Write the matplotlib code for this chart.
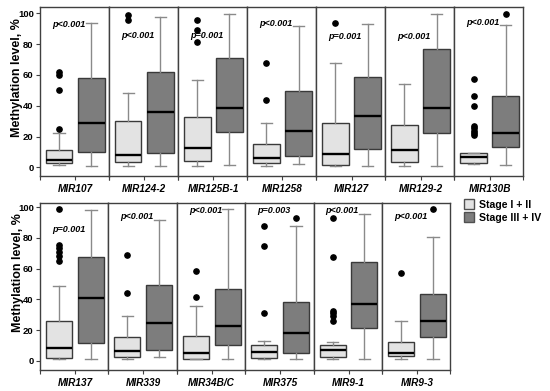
import matplotlib
matplotlib.use('Agg')
import matplotlib.pyplot as plt
from matplotlib.patches import Patch

plt.rcParams['font.family'] = ['Liberation Sans', 'DejaVu Sans']

# genes, first 7 go in the top row, the rest in the bottom row
genes = ['MIR107', 'MIR124-2', 'MIR125B-1', 'MIR1258', 'MIR127', 'MIR129-2', 'MIR130B',
         'MIR137', 'MIR339', 'MIR34B/C', 'MIR375', 'MIR9-1', 'MIR9-3']
p_labels = ['p<0.001', 'p<0.001', 'p=0.001', 'p<0.001', 'p=0.001', 'p<0.001', 'p<0.001',
            'p=0.001', 'p<0.001', 'p<0.001', 'p=0.003', 'p<0.001', 'p<0.001']
p_height = [93, 85.5, 85.5, 93.5, 85, 85, 94,
            85.6, 94.3, 97.8, 97.8, 97.6, 94.3]

# Stage I + II
early_whislo = [1.5, 0.8, 1.0, 1.0, 0.8, 1.0, 2.0, 1.1, 1.3, 1.0, 1.3, 1.1, 1.0]
early_q1 = [2.6, 3.2, 3.9, 2.6, 1.5, 3.6, 2.6, 1.8, 2.4, 1.1, 1.8, 2.2, 2.9]
early_med = [4.7, 8.0, 12.5, 5.8, 8.4, 11.0, 6.5, 8.5, 6.1, 5.2, 5.9, 7.0, 5.2]
early_q3 = [11.2, 30.0, 33.0, 15.3, 29.0, 27.3, 9.5, 25.7, 15.4, 16.3, 10.2, 10.2, 12.4]
early_whishi = [22.0, 48.5, 56.7, 29.0, 68.0, 54.0, 9.5, 49.0, 29.3, 35.4, 13.0, 12.4, 25.9]
early_fliers = [[62, 60, 50, 25], [99, 96], [96, 89.5, 81.5], [67.7, 43.7], [93.7], [],
                [57.5, 46.3, 39.8, 26.8, 25.3, 23.8, 22, 21],
                [99, 75.4, 73.2, 70.6, 68, 65], [68.7, 43.9], [58.3, 41.5], [88, 74.8, 31.3],
                [92.8, 67.6, 32.4, 30.9, 29.3, 25.7], [57.4]]

# Stage III + IV
late_whislo = [1.0, 1.0, 1.5, 2.1, 0.8, 1.0, 1.5, 0.9, 2.2, 1.0, 1.0, 1.1, 1.0]
late_q1 = [10.0, 9.5, 23.0, 7.3, 12.1, 22.5, 13.4, 11.7, 7.2, 10.4, 5.0, 21.5, 15.4]
late_med = [29.0, 36.0, 38.3, 23.8, 33.5, 38.5, 22.0, 40.7, 24.4, 22.8, 18.0, 37.0, 25.9]
late_q3 = [58.0, 62.0, 71.0, 49.3, 58.8, 76.8, 46.3, 67.8, 49.5, 46.5, 38.5, 64.3, 43.7]
late_whishi = [93.5, 97.8, 99.7, 91.5, 92.9, 99.7, 92.4, 98.2, 92.0, 98.9, 88.0, 95.4, 80.8]
late_fliers = [[], [], [], [], [], [], [99.5], [], [], [], [93], [], [99]]

light = '#e3e3e3'
dark = '#7d7d7d'

fig = plt.figure(figsize=(5.5, 3.91), dpi=100)

# row geometry (figure fractions): left, right, bottom, top
rows = [(0.0727, 0.9515, 0.55, 0.982), (0.0727, 0.8187, 0.0537, 0.4816)]

for i, gene in enumerate(genes):
    r = 0 if i < 7 else 1
    col = i if i < 7 else i - 7
    n = 7 if r == 0 else 6
    left, right, bottom, top = rows[r]
    w = (right - left) / n
    ax = fig.add_axes([left + col * w, bottom, w, top - bottom])

    stats = [
        dict(whislo=early_whislo[i], q1=early_q1[i], med=early_med[i], q3=early_q3[i],
             whishi=early_whishi[i], fliers=early_fliers[i]),
        dict(whislo=late_whislo[i], q1=late_q1[i], med=late_med[i], q3=late_q3[i],
             whishi=late_whishi[i], fliers=late_fliers[i]),
    ]
    bp = ax.bxp(stats, positions=[1, 2], widths=0.82, capwidths=0.36, patch_artist=True,
                boxprops=dict(edgecolor='#3a3a3a', linewidth=1.0),
                medianprops=dict(color='black', linewidth=1.7),
                whiskerprops=dict(color='#8a8a8a', linewidth=1.0),
                capprops=dict(color='#8a8a8a', linewidth=1.0),
                flierprops=dict(marker='o', markerfacecolor='black', markeredgecolor='black',
                                markersize=3.8))
    bp['boxes'][0].set_facecolor(light)
    bp['boxes'][1].set_facecolor(dark)

    ax.text(1.3, p_height[i], p_labels[i], ha='center', va='center', fontsize=6.5,
            fontweight='bold', fontstyle='italic')

    if r == 0:
        ax.set_ylim(-5.6, 104.1)
    else:
        ax.set_ylim(-6.0, 103.0)
    ax.set_xlim(0.4, 2.55)

    ax.set_xticks([0.4, 1.5, 2.55])
    ax.set_xticklabels(['', gene, ''], fontsize=7.2, fontweight='bold', fontstyle='italic')
    ax.tick_params(axis='x', length=3, pad=3, color='#404040')

    for s in ax.spines.values():
        s.set_color('#404040')
        s.set_linewidth(1.0)

    if col == 0:
        ax.set_yticks([0, 20, 40, 60, 80, 100])
        ax.tick_params(axis='y', length=3, pad=1.5, labelsize=6.8, color='#404040')
        for t in ax.get_yticklabels():
            t.set_fontweight('bold')
        ax.set_ylabel('Methylation level, %', fontsize=9, fontweight='bold')
        ax.yaxis.set_label_coords(-0.24, 0.58)
    else:
        ax.set_yticks([])

# legend
handles = [Patch(facecolor=light, edgecolor='#505050', label='Stage I + II'),
           Patch(facecolor=dark, edgecolor='#505050', label='Stage III + IV')]
fig.legend(handles=handles, loc='upper left', bbox_to_anchor=(0.843, 0.49), frameon=False,
           prop=dict(size=7.6, weight='bold'), handlelength=1.0, handleheight=1.0,
           handletextpad=0.45, borderpad=0.0, labelspacing=0.25, borderaxespad=0.0)

fig.savefig('out.png', dpi=100)
